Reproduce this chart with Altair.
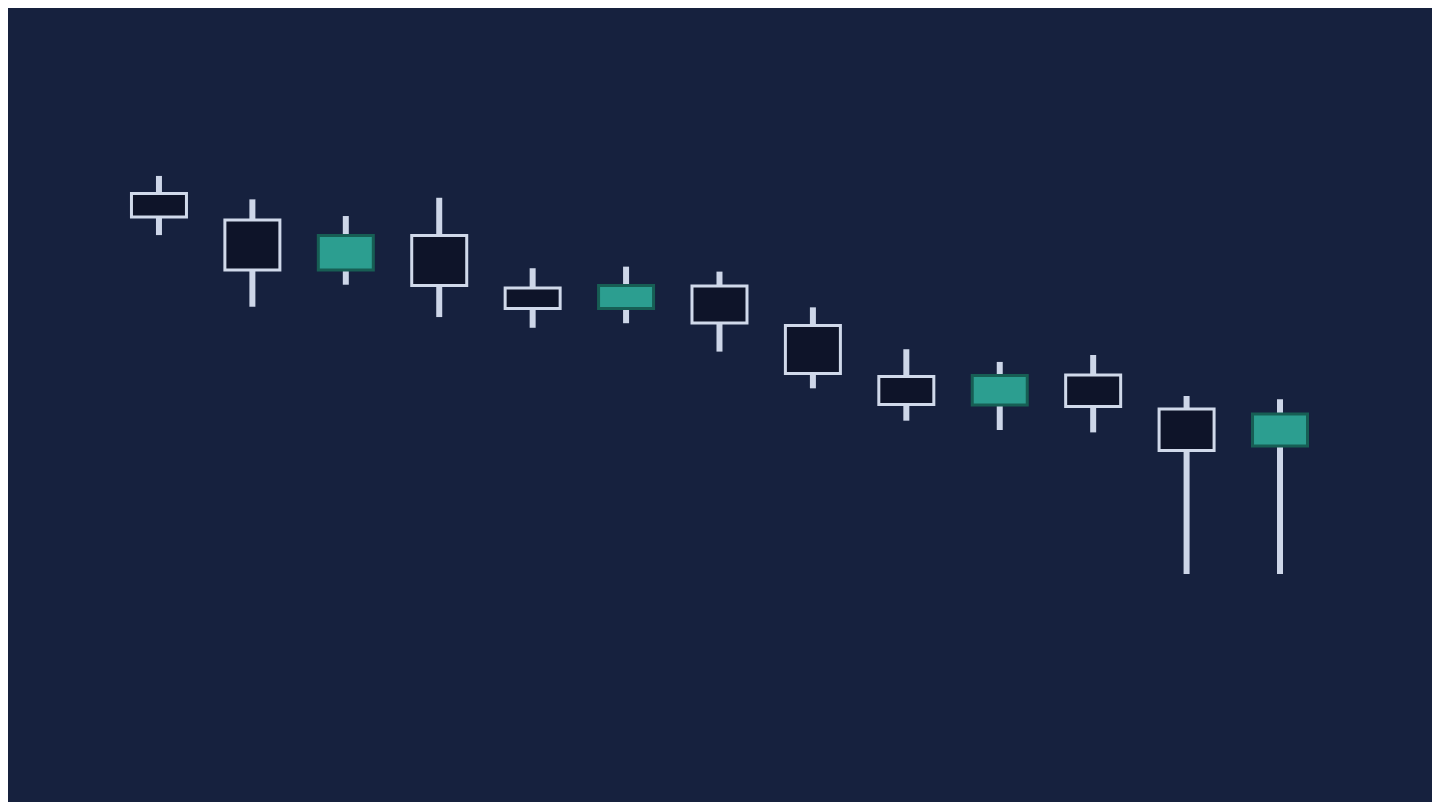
import altair as alt
import pandas as pd

day = list(range(1, 14))
open_ = [110.65, 109.32, 106.80, 108.54, 105.89, 104.86, 105.99, 104.01, 101.44, 100.00, 101.51, 99.80, 97.93]
close = [109.47, 106.80, 108.54, 106.02, 104.86, 106.02, 104.13, 101.59, 100.03, 101.49, 99.92, 97.71, 99.55]
high = [111.54, 110.36, 109.52, 110.44, 106.89, 106.97, 106.72, 104.92, 102.81, 102.17, 102.52, 100.45, 100.29]
low = [108.56, 104.95, 106.06, 104.43, 103.89, 104.12, 102.69, 100.84, 99.21, 98.74, 98.62, 91.49, 91.49]

df = pd.DataFrame({"day": day, "open": open_, "close": close, "high": high, "low": low})
df["dir"] = ["up" if c > o else "down" for o, c in zip(open_, close)]

BG = "#16213e"
xs = alt.Scale(domain=[-0.616, 14.627], nice=False, zero=False, padding=0)
ys = alt.Scale(domain=[80, 120], nice=False, zero=False, padding=0)

base = alt.Chart(df)

wick = base.mark_rule(strokeWidth=6, color="#cdd6e8", strokeCap="butt").encode(
    x=alt.X("day:Q", scale=xs, axis=None),
    y=alt.Y("low:Q", scale=ys, axis=None),
    y2="high:Q",
)

body = base.mark_bar(size=55, strokeWidth=3).encode(
    x=alt.X("day:Q", scale=xs, axis=None),
    y=alt.Y("open:Q", scale=ys, axis=None),
    y2="close:Q",
    fill=alt.Fill("dir:N", scale=alt.Scale(domain=["up", "down"], range=["#2c9e90", "#0e1429"]), legend=None),
    stroke=alt.Stroke("dir:N", scale=alt.Scale(domain=["up", "down"], range=["#175e54", "#d0d9ea"]), legend=None),
)

chart = (
    alt.layer(wick, body)
    .properties(width=1424, height=794, padding=0, background=BG)
    .configure_view(stroke=None, fill=BG)
)

chart.save("out.html", embed_options={"renderer": "svg", "actions": False})
